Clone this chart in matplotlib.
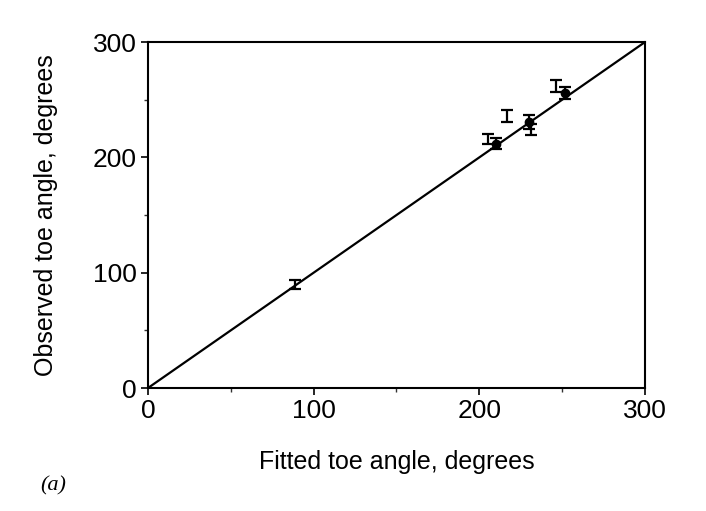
import matplotlib
matplotlib.use("Agg")
import matplotlib.pyplot as plt
from matplotlib.ticker import MultipleLocator

plt.rcParams['font.family'] = ['Liberation Sans', 'DejaVu Sans']

# Error-bar points (no marker)
fit_bar = [89, 205, 217, 246, 231]
obs_bar = [90, 216, 236, 262, 224]
err_bar = [4, 4, 5, 5, 5]

# Points with filled marker
fit_dot = [210, 230, 252]
obs_dot = [212, 231, 256]
err_dot = [5, 6, 5]

line_x = [0, 300]

fig = plt.figure(figsize=(7.06, 5.11), dpi=100)
ax = fig.add_axes([0.2096, 0.2407, 0.704, 0.677])

ax.plot(line_x, line_x, color='black', lw=1.6)
ax.errorbar(fit_bar, obs_bar, yerr=err_bar, fmt='none', ecolor='black',
            elinewidth=1.6, capsize=4, capthick=1.6)
ax.errorbar(fit_dot, obs_dot, yerr=err_dot, fmt='o', color='black', ms=6,
            ecolor='black', elinewidth=1.6, capsize=4, capthick=1.6)

ax.set_xlim(0, 300)
ax.set_ylim(0, 300)
ax.xaxis.set_major_locator(MultipleLocator(100))
ax.yaxis.set_major_locator(MultipleLocator(100))
ax.xaxis.set_minor_locator(MultipleLocator(50))
ax.yaxis.set_minor_locator(MultipleLocator(50))
ax.tick_params(which='major', direction='out', length=5, width=1.2, labelsize=19, pad=3)
ax.tick_params(which='minor', direction='out', length=3, width=1.0, color='#333333')
for s in ax.spines.values():
    s.set_linewidth(1.5)

ax.set_xlabel('Fitted toe angle, degrees', fontsize=18, va='center')
ax.set_ylabel('Observed toe angle, degrees', fontsize=18, va='center')
ax.xaxis.set_label_coords(0.5, -0.214)
ax.yaxis.set_label_coords(-0.205, 0.5)

fig.text(40 / 706, 1 - 490 / 511, '(a)', fontsize=16, style='italic',
         family='Liberation Serif', va='baseline', ha='left')

fig.savefig('out.png', dpi=100)
